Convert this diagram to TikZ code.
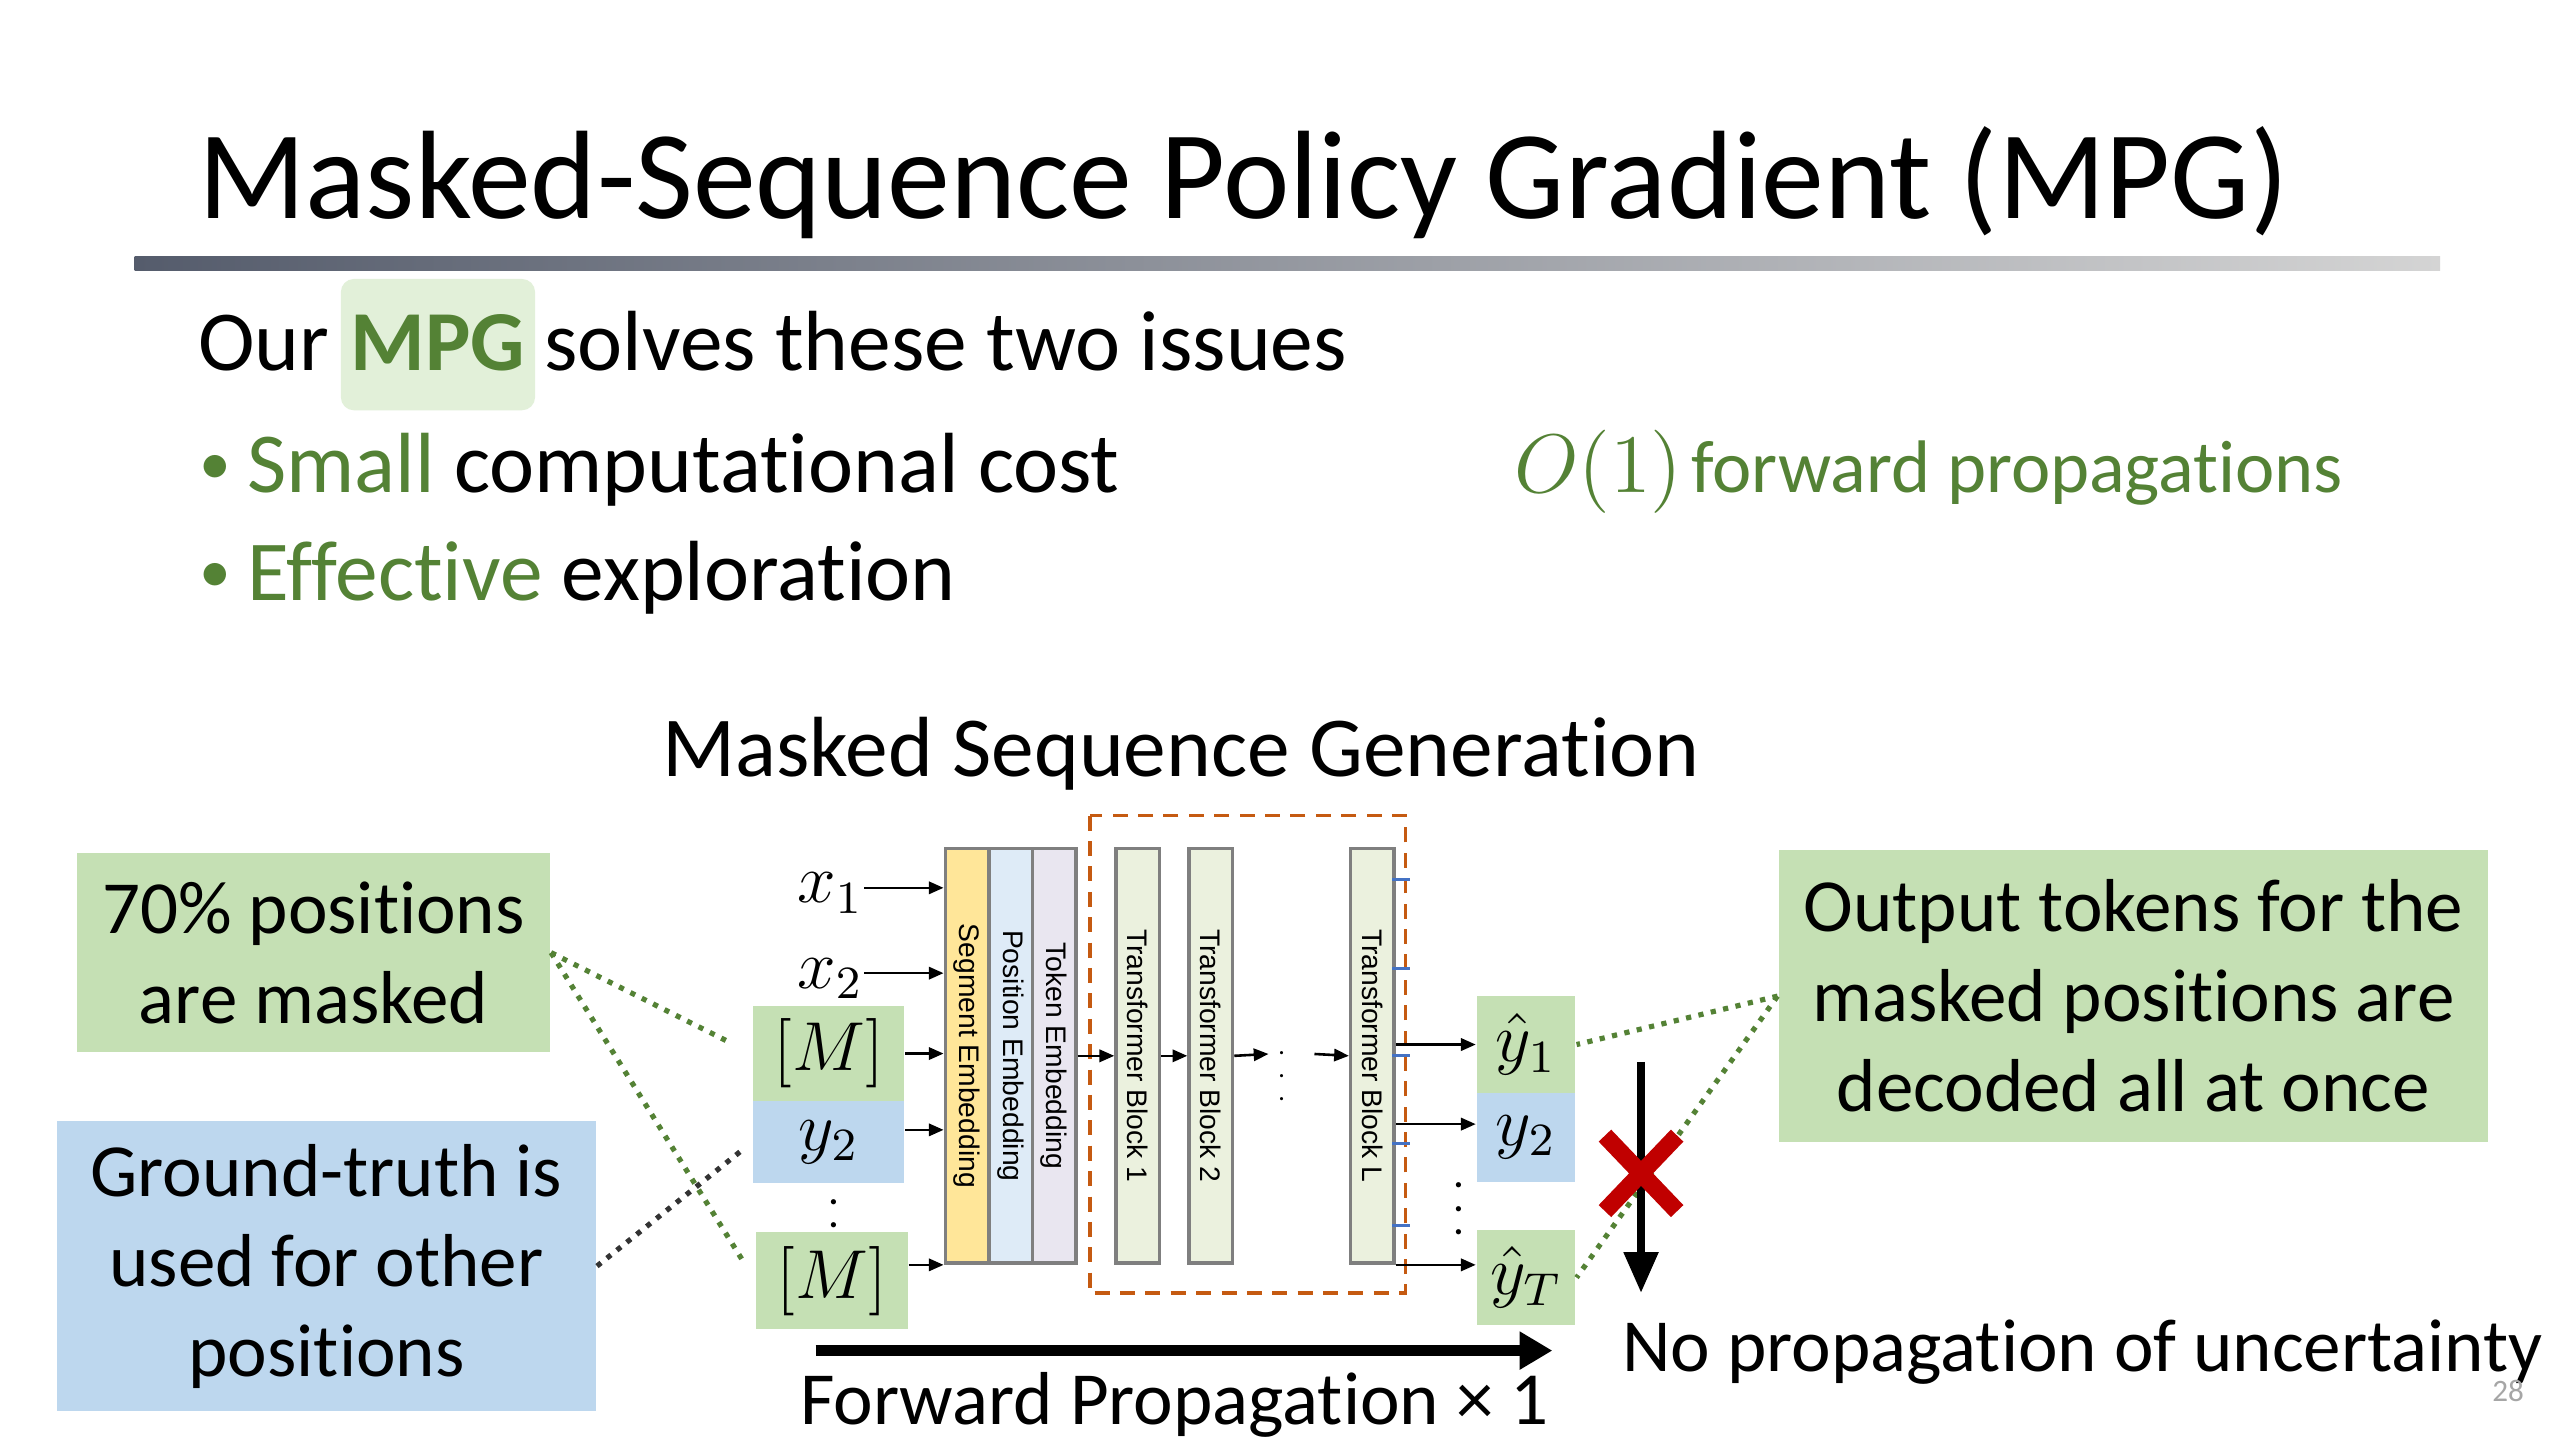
\documentclass[tikz,border=0pt]{standalone}
\usepackage{fontspec}
\setmainfont{Carlito}[Ligatures=NoCommon]
\newfontfamily\arialf{Liberation Sans}
\usetikzlibrary{arrows.meta}
\definecolor{boxgreen}{HTML}{C5E0B4}
\definecolor{boxblue}{HTML}{BDD7EE}
\definecolor{txtgreen}{HTML}{548235}
\definecolor{hlgreen}{HTML}{E2F0D9}
\definecolor{segyellow}{HTML}{FFE699}
\definecolor{posblue}{HTML}{DEEBF7}
\definecolor{toklav}{HTML}{E9E6F0}
\definecolor{blockgreen}{HTML}{EBF1DE}
\definecolor{dashbrown}{HTML}{C55A11}
\definecolor{xred}{HTML}{C00000}
\definecolor{tickblue}{HTML}{4472C4}
\definecolor{colgray}{HTML}{7F7F7F}
\definecolor{slateL}{HTML}{555C6C}
\definecolor{slateR}{HTML}{D4D4D4}
\begin{document}
\begin{tikzpicture}[x=0.01cm,y=-0.01cm,
  txt/.style={inner sep=0pt,anchor=base west},
  body/.style={inner sep=0pt,anchor=base west,font=\fontsize{14.8}{16}\selectfont},
  callout/.style={inner sep=0pt,align=center,font=\fontsize{13}{15.6}\selectfont},
  tok/.style={inner sep=0pt,font=\fontsize{12}{12}\selectfont},
  vdotsnode/.style={inner sep=0pt,font=\fontsize{7.5}{7.5}\selectfont},
  colbox/.style={draw=colgray,line width=0.6pt,anchor=north west,minimum width=0.265cm,minimum height=2.525cm,inner sep=0pt},
  collabel/.style={rotate=-90,inner sep=0pt,font=\arialf\fontsize{4.9}{5}\selectfont},
  arr/.style={-{Triangle[length=0.09cm,width=0.075cm]},line width=0.45pt},
  gdot/.style={draw=txtgreen,line width=0.9pt,dash pattern=on 0.9pt off 1.3pt,shorten >=0.15cm},
  kdot/.style={draw=black!80,line width=0.9pt,dash pattern=on 0.9pt off 1.3pt,shorten >=0.09cm}]
\useasboundingbox (0,0) rectangle (1560,877.5);
\fill[white] (0,0) rectangle (1560,877.5);

% title
\node[txt,font=\fontsize{21.8}{24}\selectfont] (title) at (120,133) {Masked-Sequence Policy Gradient (MPG)};
\shade[left color=slateL, right color=slateR] (82,156.5) rectangle (1487,165);

% intro line
\node[body] (our) at (120,226) {Our};
\node[anchor=base west,fill=hlgreen,rounded corners=0.08cm,inner xsep=0.06cm,inner ysep=0pt,text height=0.56cm,text depth=0.24cm,font=\fontsize{14.8}{16}\selectfont\bfseries,text=txtgreen] (mpg) at (207,226) {MPG};
\node[body] (solves) at (331,226) {solves these two issues};

% bullets
\node[body,font=\fontsize{11}{12}\selectfont,text=txtgreen] (b1dot) at (121,295) {•};
\node[body] (b1txt) at (150,300) {\textcolor{txtgreen}{Small} computational cost};
\node[body,font=\fontsize{11}{12}\selectfont,text=txtgreen] (b2dot) at (121,361) {•};
\node[body] (b2txt) at (150,366) {\textcolor{txtgreen}{Effective} exploration};
\node[txt,font=\fontsize{13.5}{15}\selectfont,text=txtgreen] (oone) at (922,300) {$O(1)$};
\node[body,font=\fontsize{12.9}{14}\selectfont,text=txtgreen] (fwdprop) at (1030,300) {forward propagations};

% heading
\node[body] (msg) at (403,473) {Masked Sequence Generation};

% callouts
\node[callout,fill=boxgreen,minimum width=2.88cm,minimum height=1.21cm] (mask) at (191,580.5) {70\% positions\\are masked};
\node[callout,fill=boxblue,minimum width=3.28cm,minimum height=1.77cm] (gt) at (199,771.5) {Ground-truth is\\used for other\\positions};
\node[callout,fill=boxgreen,minimum width=4.32cm,minimum height=1.78cm] (out) at (1300,607) {Output tokens for the\\masked positions are\\decoded all at once};

% inputs
\node[tok,text depth=0pt] (x1) at (506,541) {$x_1$};
\node[tok,text depth=0pt] (x2) at (506,593) {$x_2$};
\node[tok,fill=boxgreen,minimum width=0.92cm,minimum height=0.58cm] (m1) at (505,642) {$[M]$};
\node[tok,fill=boxblue,minimum width=0.92cm,minimum height=0.50cm] (y2in) at (505,696) {$y_2$};
\node[vdotsnode] (idots) at (508,736) {$\vdots$};
\node[tok,fill=boxgreen,minimum width=0.92cm,minimum height=0.59cm] (m2) at (507,780.5) {$[M]$};

% dashed frame
\draw[dashbrown,line width=0.65pt,dash pattern=on 2.6pt off 1.8pt] (664,497) rectangle (856.5,788);

% columns
\node[colbox,fill=segyellow] (seg) at (575,516) {};
\node[colbox,fill=posblue] (pos) at (601.5,516) {};
\node[colbox,fill=toklav] (tokc) at (628,516) {};
\node[colbox,fill=blockgreen] (blk1) at (679,516) {};
\node[colbox,fill=blockgreen] (blk2) at (723.5,516) {};
\node[colbox,fill=blockgreen] (blkL) at (822,516) {};
\node[collabel] at (seg.center) {Segment Embedding};
\node[collabel] at (pos.center) {Position Embedding};
\node[collabel] at (tokc.center) {Token Embedding};
\node[collabel] at (blk1.center) {Transformer Block 1};
\node[collabel] at (blk2.center) {Transformer Block 2};
\node[collabel] at (blkL.center) {Transformer Block L};

% blue ticks on block L
\foreach \ty in {536,590,643,697,747}
  \draw[tickblue,line width=0.5pt] (848.5,\ty) -- (859,\ty);

% input arrows
\draw[arr] (x1.east) -- (x1.east -| seg.west);
\draw[arr] (x2.east) -- (x2.east -| seg.west);
\draw[arr] (m1.east) -- (m1.east -| seg.west);
\draw[arr] ([yshift=0.075cm]y2in.east) -- ([yshift=0.075cm]y2in.east -| seg.west);
\draw[arr] (m2.east |- seg.south west) -- (seg.south west);

% between blocks
\coordinate (dl) at (773,642.25);
\coordinate (dr) at (801,642.25);
\node[tok,font=\fontsize{4.5}{4.5}\selectfont] (mdots) at (781,645) {$\vdots$};
\draw[arr] (tokc.east) -- (blk1.west);
\draw[arr] (blk1.east) -- (blk2.west);
\draw[arr] (blk2.east) -- (dl);
\draw[arr] (dr) -- (blkL.west);

% outputs
\node[tok,fill=boxgreen,minimum width=0.6cm,minimum height=0.59cm] (o1) at (930,636.5) {$\hat{y}_1$};
\node[tok,fill=boxblue,minimum width=0.6cm,minimum height=0.54cm] (o2) at (930,693) {$y_2$};
\node[vdotsnode] (odots) at (889,726) {$\vdots$};
\node[tok,fill=boxgreen,minimum width=0.6cm,minimum height=0.58cm] (oT) at (930,778.5) {$\hat{y}_T$};
\draw[arr] (o1.west -| blkL.east) -- (o1.west);
\draw[arr] ([yshift=0.08cm]o2.west -| blkL.east) -- ([yshift=0.08cm]o2.west);
\draw[arr] (blkL.south east) -- (blkL.south east -| oT.west);

% dotted connectors
\draw[gdot] (mask.east) -- (m1.west);
\draw[gdot] (mask.east) -- (m2.west);
\draw[kdot] (gt.east) -- (y2in.west);
\draw[gdot,shorten >=0pt] (out.west) -- (o1.east);
\draw[gdot,shorten >=0pt] (out.west) -- (oT.east);

% no propagation arrow and cross
\coordinate (dtop) at (1000,647);
\coordinate (dbot) at (1000,788);
\draw[-{Triangle[length=0.25cm,width=0.2cm]},line width=1.5pt] (dtop) -- (dbot);
\draw[xred,line width=3pt] (978,692) -- (1022,738);
\draw[xred,line width=3pt] (1022,692) -- (978,738);
\node[txt,font=\fontsize{13}{15.6}\selectfont] (nop) at (988,836) {No propagation of uncertainty};

% forward propagation
\coordinate (fpa) at (497,823);
\coordinate (fpb) at (946,823);
\draw[-{Triangle[length=0.2cm,width=0.22cm]},line width=2pt] (fpa) -- (fpb);
\node[txt,font=\fontsize{13}{15.6}\selectfont] (fwd) at (487,868) {Forward Propagation × 1};

% page number
\node[txt,font=\fontsize{5.4}{6}\selectfont,text=black!35] (pg) at (1518,854) {28};
\end{tikzpicture}
\end{document}
